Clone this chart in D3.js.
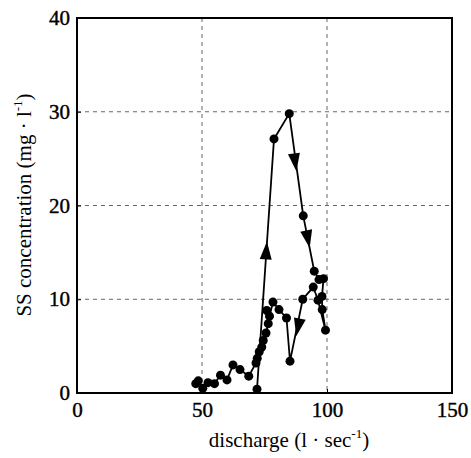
<!DOCTYPE html>
<html>
<head>
<meta charset="utf-8">
<script src="https://cdn.jsdelivr.net/npm/d3@7"></script>
<style>
  body { margin: 0; background: #fff; }
  text { font-family: "Liberation Serif", "DejaVu Serif", serif; fill: #000; }
  .grid line { stroke: #666; stroke-dasharray: 4,4; stroke-width: 1; }
</style>
</head>
<body>
<div id="chart"></div>
<script>
// discharge (l/sec) and SS concentration (mg/l), in time order
var discharge = [72.0, 78.8, 84.9, 90.5, 94.9, 96.8, 98.6, 98.0, 98.1, 99.4,
  96.4, 94.5, 90.3, 85.2, 83.8, 80.8, 78.4, 77.0, 75.9, 76.5,
  75.6, 74.5, 73.9, 72.9, 72.1, 71.6, 68.7, 65.2, 62.4, 60.0,
  57.4, 55.0, 52.4, 50.3, 48.5, 47.5];
var concentration = [0.4, 27.1, 29.8, 18.9, 13.0, 12.1, 12.2, 10.3, 8.9, 6.7,
  9.9, 11.3, 10.0, 3.4, 8.0, 8.9, 9.7, 8.2, 8.8, 7.4,
  6.4, 5.6, 4.9, 4.4, 3.7, 3.2, 1.8, 2.5, 3.0, 1.4,
  1.9, 1.0, 1.1, 0.5, 1.3, 1.0];
// arrowheads: position and the segment (start index) they point along
var arrowX = [75.7, 87.2, 92.3, 88.5];
var arrowY = [15.1, 24.7, 16.5, 7.1];
var arrowSeg = [0, 2, 3, 12];

var xTicks = [0, 50, 100, 150];
var yTicks = [0, 10, 20, 30, 40];

(function(d3) {
  'use strict';

  var width = 471, height = 458;
  var mLeft = 77, mRight = 452, mTop = 18, mBottom = 393;

  var x = d3.scaleLinear().domain([0, 150]).range([mLeft, mRight]);
  var y = d3.scaleLinear().domain([0, 40]).range([mBottom, mTop]);

  var svg = d3.select('#chart').append('svg')
    .attr('width', width).attr('height', height);

  // grid
  var grid = svg.append('g').attr('class', 'grid');
  grid.selectAll('.gx').data(xTicks.slice(1, -1)).enter().append('line')
    .attr('x1', function(d) { return x(d); }).attr('x2', function(d) { return x(d); })
    .attr('y1', mTop).attr('y2', mBottom);
  grid.selectAll('.gy').data(yTicks.slice(1, -1)).enter().append('line')
    .attr('y1', function(d) { return y(d); }).attr('y2', function(d) { return y(d); })
    .attr('x1', mLeft).attr('x2', mRight);

  // frame
  svg.append('rect')
    .attr('x', mLeft).attr('y', mTop)
    .attr('width', mRight - mLeft).attr('height', mBottom - mTop)
    .attr('fill', 'none').attr('stroke', '#000').attr('stroke-width', 2);

  // axes (labels, small inward ticks)
  var xAxis = svg.append('g').attr('transform', 'translate(0,' + mBottom + ')')
    .call(d3.axisBottom(x).tickValues(xTicks).tickSize(-4).tickPadding(9));
  var yAxis = svg.append('g').attr('transform', 'translate(' + mLeft + ',0)')
    .call(d3.axisLeft(y).tickValues(yTicks).tickSize(-4).tickPadding(7));
  [xAxis, yAxis].forEach(function(a) {
    a.select('.domain').remove();
    a.selectAll('text').style('font-size', '21px')
      .style('font-family', '"Liberation Serif", serif')
      .style('stroke', '#000').style('stroke-width', 0.4);
    a.selectAll('line').attr('stroke', '#000');
  });

  // data line
  var pts = discharge.map(function(d, i) { return [d, concentration[i]]; });
  var line = d3.line()
    .x(function(d) { return x(d[0]); })
    .y(function(d) { return y(d[1]); });

  svg.append('path')
    .datum(pts)
    .attr('d', line)
    .attr('fill', 'none')
    .attr('stroke', '#000')
    .attr('stroke-width', 1.8);

  svg.selectAll('.pt').data(pts).enter().append('circle')
    .attr('cx', function(d) { return x(d[0]); })
    .attr('cy', function(d) { return y(d[1]); })
    .attr('r', 4.5)
    .attr('fill', '#000');

  // arrowheads
  svg.selectAll('.arrow').data(arrowX).enter().append('path')
    .attr('d', 'M0,-10L6,8L-6,8Z')
    .attr('fill', '#000')
    .attr('transform', function(d, i) {
      var a = pts[arrowSeg[i]], b = pts[arrowSeg[i] + 1];
      var ang = Math.atan2(y(b[1]) - y(a[1]), x(b[0]) - x(a[0])) * 180 / Math.PI + 90;
      return 'translate(' + x(d) + ',' + y(arrowY[i]) + ') rotate(' + ang + ')';
    });

  // axis titles
  var xt = svg.append('text')
    .attr('x', 289).attr('y', 447)
    .attr('text-anchor', 'middle')
    .style('font-size', '21px');
  xt.append('tspan').text('discharge (l \u00b7 sec');
  xt.append('tspan').attr('dy', -9).style('font-size', '13px').text('-1');
  xt.append('tspan').attr('dy', 9).text(')');

  var yt = svg.append('text')
    .attr('transform', 'translate(31,' + 205 + ') rotate(-90)')
    .attr('text-anchor', 'middle')
    .style('font-size', '21px');
  yt.append('tspan').text('SS concentration (mg \u00b7 l');
  yt.append('tspan').attr('dy', -9).style('font-size', '13px').text('-1');
  yt.append('tspan').attr('dy', 9).text(')');
})(window.d3);
</script>
</body>
</html>
